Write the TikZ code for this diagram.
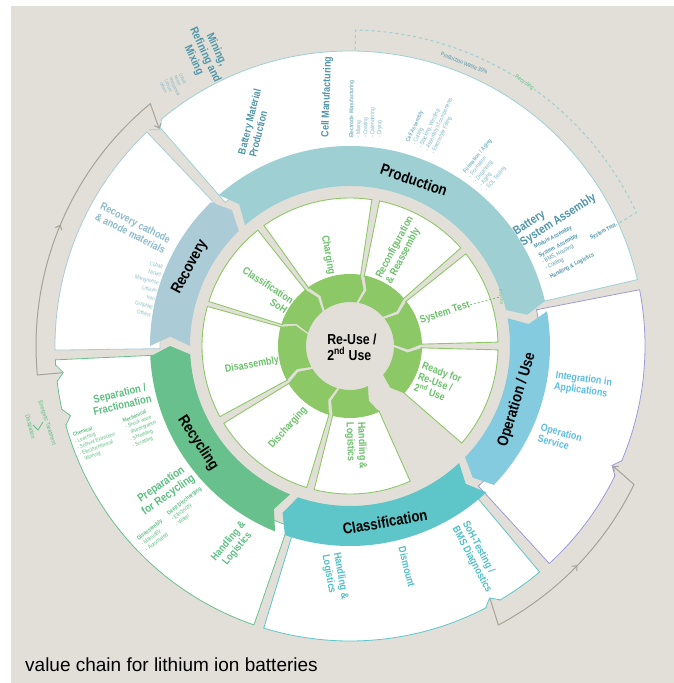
\documentclass[tikz,border=0pt]{standalone}
\usepackage{fontspec}
\setmainfont{Liberation Sans}
\newfontfamily\cond[FakeStretch=0.85]{Liberation Sans}
\usetikzlibrary{
arrows.meta,
decorations.markings
}

\definecolor{bgC}{HTML}{E2DFD9}
\definecolor{prodC}{HTML}{9DCFD3}
\definecolor{prodT}{HTML}{4F95A8}
\definecolor{prodL}{HTML}{7FB5C4}
\definecolor{recovC}{HTML}{ABCBD6}
\definecolor{recovT}{HTML}{8DBBCA}
\definecolor{operC}{HTML}{84CBE0}
\definecolor{operB}{HTML}{9C9AD8}
\definecolor{operT}{HTML}{5DBDE0}
\definecolor{classC}{HTML}{5EC5C8}
\definecolor{classT}{HTML}{4FC0C6}
\definecolor{recycC}{HTML}{68C18D}
\definecolor{recycT}{HTML}{5DBE82}
\definecolor{greenC}{HTML}{8DC866}
\definecolor{greenT}{HTML}{6CC06C}
\definecolor{arcC}{HTML}{A8A298}

% plain ring sector: r1, r2, from angle, to angle, style
\newcommand{\wsector}[5]{%
  \path[#5] (#3:#2) arc[start angle=#3, end angle=#4, radius=#2]
    -- (#4:#1) arc[start angle=#4, end angle=#3, radius=#1] -- cycle;}
% ring sector with notch at the start and point at the end (clockwise)
\newcommand{\ringseg}[6]{%
  \path[#6] (#3:#2) arc[start angle=#3, end angle=#4, radius=#2]
    -- ({#4-#5}:{(#1+#2)/2}) -- (#4:#1)
    arc[start angle=#4, end angle=#3, radius=#1]
    -- ({#3-#5}:{(#1+#2)/2}) -- cycle;}
% small notch in the rim of an outer field
\newcommand{\rimnotch}[2]{%
  \fill[bgC] ({#1-1.6}:296) -- (#1:288) -- ({#1+1.6}:296) -- cycle;
  \draw[#2, line width=0.8pt] ({#1-1.6}:295) -- (#1:288) -- ({#1+1.6}:295);}

\tikzset{
  outseg/.style={fill=white, draw=#1, line width=0.8pt},
  inseg/.style={fill=white, draw=greenC, line width=0.9pt},
  ringlbl/.style={font=\cond\bfseries\fontsize{15.5}{17}\selectfont, text=black, inner sep=0pt},
  inlbl/.style={font=\cond\bfseries\fontsize{10.5}{11.5}\selectfont, text=greenT, align=center, inner sep=0pt},
  headlbl/.style={font=\cond\bfseries\fontsize{10.5}{11.5}\selectfont, align=center, inner sep=0pt},
  biglbl/.style={font=\cond\bfseries\fontsize{11.5}{12.5}\selectfont, align=center, inner sep=0pt},
  listlbl/.style={font=\cond\fontsize{5.8}{7}\selectfont, align=left, inner sep=0pt},
  grayarc/.style={draw=arcC, line width=1pt},
  midarrow/.style={postaction={decorate}, decoration={markings,
    mark=at position #1 with {\arrow[arcC]{Straight Barb[length=4pt,width=7pt]}}}},
  wasteline/.style={draw=prodC, line width=1pt, dash pattern=on 3pt off 3pt},
}

\begin{document}
\begin{tikzpicture}[x=1pt,y=1pt]
    \useasboundingbox (-350,-337) rectangle (324,346);
    \fill[bgC] (-339,-337) rectangle (324,340);

    % outer white fields
    \wsector{190}{295}{180.8}{133.5}{outseg=recovC}
    \wsector{190}{295}{131}{13}{outseg=prodC}
    \wsector{190}{295}{11}{-47.5}{outseg=operB}
    \wsector{190}{295}{-50}{-107}{outseg=classC}
    \wsector{190}{295}{-109}{-177.3}{outseg=recycC}
    \rimnotch{131.3}{prodC}
    \rimnotch{-24.5}{operB}
    \rimnotch{-61}{classC}
    \rimnotch{185.3}{recycC}
    \rimnotch{194}{recycC}

    % coloured ring
    \ringseg{160}{200}{131}{13}{3}{fill=prodC}
    \ringseg{160}{200}{10}{-44}{3}{fill=operC}
    \ringseg{160}{200}{-47}{-109}{3}{fill=classC}
    \ringseg{160}{200}{-112}{-177}{3}{fill=recycC}
    \ringseg{160}{200}{180}{134}{3}{fill=recovC}

    % inner loop
    \wsector{71}{148}{125.5}{81.5}{inseg}
    \wsector{71}{148}{78.5}{41.5}{inseg}
    \wsector{71}{148}{38.5}{1.5}{inseg}
    \wsector{71}{148}{-1.5}{-41}{inseg}
    \wsector{71}{148}{-66}{-104}{inseg}
    \wsector{71}{148}{-107}{-148.5}{inseg}
    \wsector{71}{148}{-151.5}{-195.5}{inseg}
    \wsector{71}{148}{162.5}{128.5}{inseg}
    \ringseg{44}{72}{125.5}{81.5}{5}{fill=greenC}
    \ringseg{44}{72}{78.5}{41.5}{5}{fill=greenC}
    \ringseg{44}{72}{38.5}{1.5}{5}{fill=greenC}
    \ringseg{44}{72}{-1.5}{-41}{5}{fill=greenC}
    \ringseg{44}{72}{-66}{-104}{5}{fill=greenC}
    \ringseg{44}{72}{-107}{-148.5}{5}{fill=greenC}
    \ringseg{44}{72}{-151.5}{-195.5}{5}{fill=greenC}
    \ringseg{44}{72}{162.5}{128.5}{5}{fill=greenC}

    % ring labels
    \node[ringlbl, rotate=-19] (prodR) at (64,166) {Production};
    \node[ringlbl, rotate=73] (operR) at (167,-54) {Operation / Use};
    \node[ringlbl, rotate=10] (classR) at (35,-176) {Classification};
    \node[ringlbl, rotate=-57] (recycR) at (-152,-97) {Recycling};
    \node[ringlbl, rotate=62] (recovR) at (-160,79) {Recovery};

    % inner labels
    \node[font=\cond\bfseries\fontsize{14.5}{16}\selectfont, align=left] (reuse) at (2,-1) {Re-Use /\\2\textsuperscript{nd} Use};
    \node[inlbl, rotate=-80] (charg) at (-22,91) {Charging};
    \node[inlbl, rotate=62, align=left] (reconf) at (50,96) {Reconfiguration\\\& Reassembly};
    \node[inlbl, rotate=18] (systest) at (95,33) {System Test};
    \node[inlbl, rotate=-20, align=left] (ready) at (88,-37) {Ready for\\Re-Use /\\2\textsuperscript{nd} Use};
    \node[inlbl, rotate=-88, align=left] (handl) at (6,-100) {Handling \&\\Logistics};
    \node[inlbl, rotate=48] (dischg) at (-62,-82) {Discharging};
    \node[inlbl, rotate=10] (disass) at (-98,-19) {Disassembly};
    \node[inlbl, rotate=-33, align=right] (classoh) at (-85,56) {Classification\\SoH};
    \node[listlbl, font=\cond\fontsize{4}{5}\selectfont, text=greenT, rotate=-82] (strecyc) at (151,49) {Recycling};
    \draw[greenT, line width=0.7pt, dash pattern=on 2pt off 2pt] (systest.east) -- (strecyc.south);

    % production field
    \node[headlbl, text=prodT, rotate=76, align=left] (batmat) at (-95,223) {Battery Material\\Production};
    \node[headlbl, text=prodT, rotate=88] (cellman) at (-23,249) {Cell Manufacturing};
    \node[listlbl, text=prodL, rotate=90, anchor=north west] (electr) at (-1,208) {\textbf{Electrode Manufacturing}\\- Mixing\\- Coating\\- Calendering\\- Drying};
    \node[listlbl, text=prodL, rotate=65, anchor=north west] (cellass) at (55,205) {\textbf{Cell Assembly}\\- Cutting\\- Stacking, Winding\\- Assembly of components\\- Electrolyte Filling};
    \node[listlbl, text=prodL, rotate=51, anchor=north west] (formag) at (112,175) {\textbf{Formation / Aging}\\- Formation\\- Degassing\\- Aging\\- EOL Testing};
    \node[biglbl, font=\cond\bfseries\fontsize{12}{13}\selectfont, text=prodT, rotate=33, align=left] (batsys) at (205,131) {Battery\\System Assembly};
    \node[listlbl, text=prodT, rotate=28, anchor=north west] (modass) at (183,101) {\textbf{Module Assembly}\\[3pt]\textbf{System\ \ Assembly}\\- BMS, Housing\\- Cooling\\[3pt]\textbf{Handling \& Logistics}};
    \node[listlbl, font=\cond\bfseries\fontsize{5.8}{7}\selectfont, text=prodT, rotate=28] (systout) at (253,114) {System Test};

    % recovery field
    \node[headlbl, text=recovT, rotate=-27, align=left] (recmat) at (-217,118) {Recovery cathode\\\& anode materials};
    \node[listlbl, font=\cond\fontsize{5.5}{8.3}\selectfont, text=recovT, rotate=-14, align=right] (recmetal) at (-205,58) {Cobalt\\Nickel\\Manganese\\Lithium\\Iron\\Graphite\\Others};

    % operation field
    \node[headlbl, text=operT, rotate=-8, align=left] (integr) at (233,-39) {Integration in\\Applications};
    \node[headlbl, text=operT, rotate=-15, align=left] (opserv) at (210,-92) {Operation\\Service};

    % classification field
    \node[headlbl, text=classT, rotate=-80, align=left] (clhandl) at (-15,-231) {Handling \&\\Logistics};
    \node[headlbl, text=classT, rotate=-76] (dismnt) at (57,-221) {Dismount};
    \node[headlbl, text=classT, rotate=-62, align=left] (sohtest) at (127,-211) {SoH-Testing /\\BMS Diagnostics};

    % recycling field
    \node[biglbl, font=\cond\bfseries\fontsize{11}{12}\selectfont, text=recycT, rotate=13] (separ) at (-229,-53) {Separation /\\Fractionation};
    \node[listlbl, font=\cond\fontsize{5.4}{6.6}\selectfont, text=recycT, rotate=20, anchor=north west] (chem) at (-278,-87) {\textbf{Chemical}\\- Leaching\\- Solvent Extraction\\- Electrochemical\\\hphantom{- }Winning};
    \node[listlbl, font=\cond\fontsize{5.4}{6.6}\selectfont, text=recycT, rotate=22, anchor=north west] (mech) at (-228,-73) {\textbf{Mechanical}\\- Shock wave\\\hphantom{- }disintegration\\- Shredding\\- Scraping};
    \node[biglbl, text=recycT, rotate=35] (prep) at (-185,-144) {Preparation\\for Recycling};
    \node[listlbl, text=recycT, rotate=38, anchor=north west] (deepdis) at (-184,-166) {\textbf{Deep Discharging}\\- Electricity\\- Water};
    \node[listlbl, text=recycT, rotate=37, anchor=north west] (disman) at (-214,-191) {\textbf{Disassembly}\\- Manually\\- Automated};
    \node[headlbl, text=recycT, rotate=50] (rchandl) at (-117,-199) {Handling \&\\Logistics};
    \node[listlbl, font=\cond\fontsize{6}{7}\selectfont, text=recycT, rotate=-72] (energ) at (-303,-77) {Energetic Treatment};
    \node[listlbl, font=\cond\fontsize{6}{7}\selectfont, text=recycT, rotate=-76] (dissip) at (-320,-81) {Dissipation};
    \draw[recycT, line width=0.8pt] (-317,-79) -- (-312,-84) -- (-307,-76);

    % mining, outside
    \node[biglbl, text=prodT, rotate=-65] (mining) at (-145,291) {Mining,\\Refining and\\Mixing};
    \node[listlbl, font=\cond\fontsize{4.5}{5.3}\selectfont, text=prodL, rotate=-65] (minlist) at (-175,259) {Cobalt\\Nickel\\Manganese\\Lithium\\Others};

    % loops outside the wheel
    \coordinate (recyOut) at (185.3:289);
    \coordinate (prodIn) at (131.3:289);
    \draw[grayarc, midarrow=0.5, -{Straight Barb[length=4pt,width=7pt]}] (recyOut) -- (185.3:314) arc[start angle=185.3, end angle=129.5, radius=314] -- (prodIn);
    \coordinate (classOut) at (-61:289);
    \coordinate (operIn) at (-24.5:289);
    \draw[grayarc, midarrow=0.5, -{Straight Barb[length=4pt,width=7pt]}] (classOut) -- (-62:316) arc[start angle=-62, end angle=-26, radius=316] -- (operIn);

    \coordinate (prodTop) at (89:296);
    \draw[wasteline] (prodTop) -- (89:316) arc[start angle=89, end angle=25, radius=316] -- (systout.east);
    \node[listlbl, text=prodT, rotate=-22] (waste) at (68:305) {Production Waste 30\%};
    \node[listlbl, text=recycT, rotate=-34, fill=bgC, inner sep=1pt] (wrecyc) at (56.5:316) {Recycling};

    \node[font=\fontsize{19}{22}\selectfont, anchor=base west, inner sep=0pt] (title) at (-325,-325) {value chain for lithium ion batteries};
\end{tikzpicture}
\end{document}
